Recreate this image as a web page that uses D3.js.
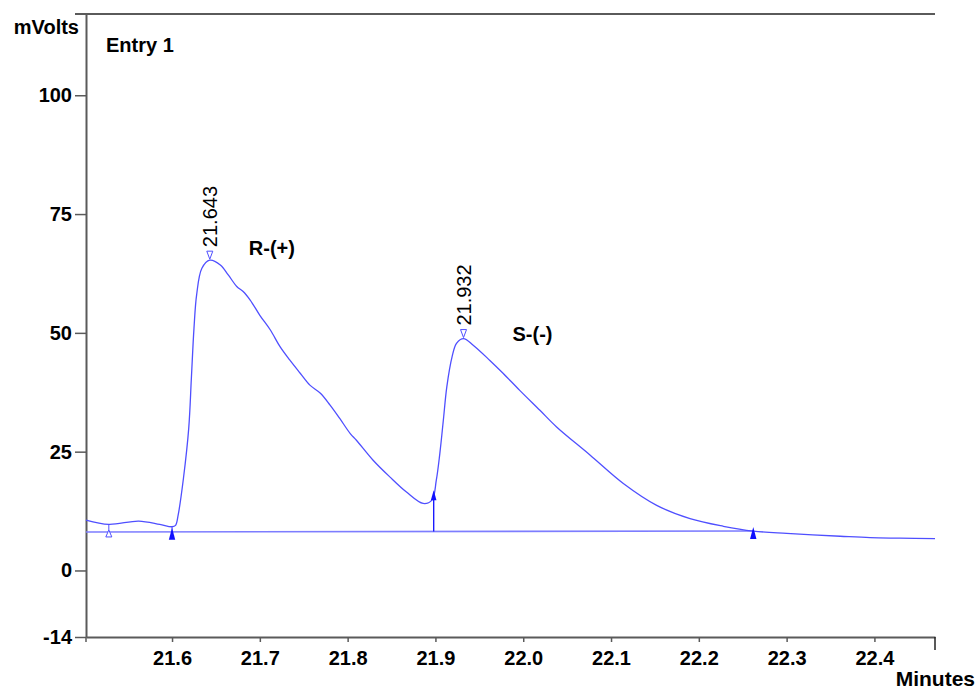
<!DOCTYPE html>
<html>
<head>
<meta charset="utf-8">
<script src="https://cdn.jsdelivr.net/npm/d3@7"></script>
<style>
  body { margin: 0; background: #fff; }
  text { font-family: "Liberation Sans", Arial, sans-serif; }
</style>
</head>
<body>
<div id="chart"></div>
<script>
const tiempos = [21.502, 21.528, 21.562, 21.586, 21.600, 21.604, 21.607, 21.613, 21.619, 21.622,
  21.625, 21.628, 21.634, 21.643, 21.655, 21.664, 21.674, 21.681, 21.689, 21.700,
  21.712, 21.723, 21.734, 21.746, 21.757, 21.769, 21.780, 21.791, 21.803, 21.810,
  21.829, 21.848, 21.867, 21.886, 21.896, 21.901, 21.905, 21.909, 21.913, 21.919,
  21.924, 21.932, 21.943, 21.962, 21.977, 21.996, 22.019, 22.038, 22.076, 22.114,
  22.152, 22.190, 22.228, 22.262, 22.300, 22.361, 22.395, 22.429, 22.469];
const mvolts = [10.6, 9.7, 10.4, 9.7, 9.2, 9.5, 11.7, 19.4, 29.9, 40.4,
  51.0, 58.0, 63.6, 65.3, 64.3, 62.2, 59.7, 58.7, 56.9, 53.7,
  50.6, 47.1, 44.3, 41.5, 39.0, 37.3, 34.8, 32.0, 28.8, 27.4,
  23.2, 19.7, 16.5, 14.1, 14.8, 19.0, 24.6, 31.6, 38.7, 45.0,
  47.8, 48.8, 47.4, 44.2, 41.5, 37.9, 33.7, 30.2, 24.3, 18.3,
  13.7, 10.9, 9.3, 8.3, 7.8, 7.2, 6.9, 6.8, 6.7];

const baseTiempos = [21.502, 22.262];
const baseValores = [8.1, 8.3];

const picoTiempos = [21.643, 21.932];
const picoValores = [65.3, 48.8];
const picoNombres = ["R-(+)", "S-(-)"];

const marcasAbiertas = [21.528];
const marcasLlenas = [21.600, 22.262];
const marcasFlecha = [21.898];

const xTicks = [21.6, 21.7, 21.8, 21.9, 22.0, 22.1, 22.2, 22.3, 22.4];
const yTicks = [-14, 0, 25, 50, 75, 100];

document.addEventListener("DOMContentLoaded", () => {
  const width = 977;
  const height = 689;
  const margin = { top: 14, right: 42, bottom: 52, left: 86 };
  const innerW = width - margin.left - margin.right;
  const innerH = height - margin.top - margin.bottom;
  const azul = "#4f4fff";
  const ejeColor = "#5a5a5a";

  const svg = d3.select("#chart")
    .append("svg")
    .attr("width", width)
    .attr("height", height);

  const g = svg.append("g")
    .attr("transform", `translate(${margin.left},${margin.top})`);

  const x = d3.scaleLinear().domain([21.502, 22.469]).range([0, innerW]);
  const y = d3.scaleLinear().domain([-14, 117.1]).range([innerH, 0]);

  // eje x
  const xAxis = g.append("g")
    .attr("transform", `translate(0,${innerH})`)
    .call(d3.axisBottom(x).tickValues(xTicks).tickFormat(d3.format(".1f")).tickSize(5).tickSizeOuter(0));
  xAxis.selectAll("text")
    .attr("y", 14)
    .style("font-size", "20px")
    .style("font-weight", "bold")
    .attr("fill", "#000");

  // eje y (guion normal para el negativo)
  const yAxis = g.append("g")
    .call(d3.axisLeft(y).tickValues(yTicks).tickFormat(d => String(d)).tickSize(11).tickSizeOuter(0));
  yAxis.selectAll("text")
    .style("font-size", "20px")
    .style("font-weight", "bold")
    .attr("fill", "#000");

  [xAxis, yAxis].forEach(ax => {
    ax.select(".domain").attr("stroke", ejeColor).attr("stroke-width", 2);
    ax.selectAll(".tick line").attr("stroke", ejeColor).attr("stroke-width", 1.5);
  });

  // borde superior y marcas extremas
  g.append("line")
    .attr("x1", -11).attr("x2", innerW)
    .attr("y1", 0).attr("y2", 0)
    .attr("stroke", ejeColor).attr("stroke-width", 2);
  g.append("line")
    .attr("x1", 0).attr("x2", 0)
    .attr("y1", innerH).attr("y2", innerH + 5)
    .attr("stroke", ejeColor).attr("stroke-width", 1.5);
  g.append("line")
    .attr("x1", innerW).attr("x2", innerW)
    .attr("y1", innerH).attr("y2", innerH + 13)
    .attr("stroke", "#222").attr("stroke-width", 1.5);

  // textos
  svg.append("text").attr("x", 79).attr("y", 34).attr("text-anchor", "end")
    .style("font-size", "20px").style("font-weight", "bold").text("mVolts");
  svg.append("text").attr("x", 106).attr("y", 52)
    .style("font-size", "20px").style("font-weight", "bold").text("Entry 1");
  svg.append("text").attr("x", 975).attr("y", 686).attr("text-anchor", "end")
    .style("font-size", "21px").style("font-weight", "bold").text("Minutes");

  // linea base
  const baseAt = d3.scaleLinear().domain(baseTiempos).range(baseValores);
  g.append("line")
    .attr("x1", x(baseTiempos[0])).attr("x2", x(baseTiempos[1]))
    .attr("y1", y(baseValores[0])).attr("y2", y(baseValores[1]))
    .attr("stroke", "#7d7dff").attr("stroke-width", 1.6);

  // senal
  const linea = d3.line()
    .x((d, i) => x(tiempos[i]))
    .y(d => y(d))
    .curve(d3.curveCatmullRom.alpha(0.5));
  g.append("path")
    .attr("d", linea(mvolts))
    .attr("fill", "none")
    .attr("stroke", azul)
    .attr("stroke-width", 1.3);

  const bisect = d3.bisector(d => d).left;
  function valorEn(t) {
    const i = Math.max(1, Math.min(tiempos.length - 1, bisect(tiempos, t)));
    const f = (t - tiempos[i - 1]) / (tiempos[i] - tiempos[i - 1]);
    return mvolts[i - 1] + f * (mvolts[i] - mvolts[i - 1]);
  }

  // marcas de integracion
  marcasAbiertas.forEach(t => {
    const px = x(t), by = y(baseAt(t));
    g.append("line").attr("x1", px).attr("x2", px)
      .attr("y1", y(valorEn(t))).attr("y2", by - 2)
      .attr("stroke", azul).attr("stroke-width", 1);
    g.append("path")
      .attr("d", `M${px},${by - 2}L${px - 3},${by + 5}L${px + 3},${by + 5}Z`)
      .attr("fill", "#fff").attr("stroke", azul).attr("stroke-width", 1);
  });

  marcasLlenas.forEach(t => {
    const px = x(t), by = y(baseAt(t));
    g.append("line").attr("x1", px).attr("x2", px)
      .attr("y1", y(valorEn(t))).attr("y2", by)
      .attr("stroke", azul).attr("stroke-width", 1);
    g.append("path")
      .attr("d", `M${px},${by - 4}L${px - 3.2},${by + 8}L${px + 3.2},${by + 8}Z`)
      .attr("fill", "#1010ff");
  });

  marcasFlecha.forEach(t => {
    const px = x(t), by = y(baseAt(t)), ty = y(valorEn(t)) - 2;
    g.append("line").attr("x1", px).attr("x2", px)
      .attr("y1", by).attr("y2", ty + 6)
      .attr("stroke", "#1a1aff").attr("stroke-width", 1.4);
    g.append("path")
      .attr("d", `M${px},${ty}L${px - 2.8},${ty + 10}L${px + 2.8},${ty + 10}Z`)
      .attr("fill", "#1010ff");
  });

  // picos
  const desplaza = [[39, -5], [49, 2]];
  picoTiempos.forEach((t, i) => {
    const px = x(t), ay = y(picoValores[i]);
    g.append("path")
      .attr("d", `M${px - 3},${ay - 9}L${px + 3},${ay - 9}L${px},${ay - 1}Z`)
      .attr("fill", "#fff").attr("stroke", azul).attr("stroke-width", 1);
    g.append("text")
      .attr("transform", `translate(${px + 7.5},${ay - 13}) rotate(-90)`)
      .style("font-size", "20px")
      .text(d3.format(".3f")(t));
    g.append("text")
      .attr("x", px + desplaza[i][0]).attr("y", ay + desplaza[i][1])
      .style("font-size", "20px").style("font-weight", "bold")
      .text(picoNombres[i]);
  });
});
</script>
</body>
</html>
